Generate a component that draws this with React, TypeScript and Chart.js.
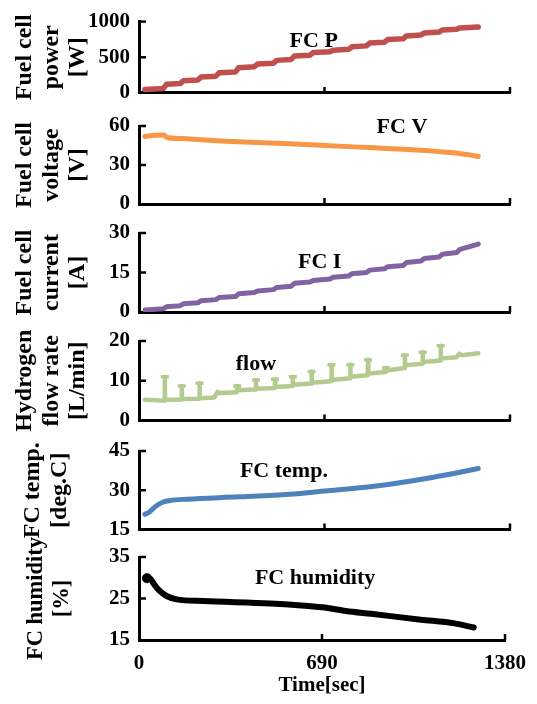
import React, { useEffect, useRef } from 'react';
import { Chart, registerables } from 'chart.js';

Chart.register(...registerables);

// ---------- data ----------
const timeTicks = [0, 690, 1380];

// plateau start / end times shared by the stepped power and current traces (sec)
const stepTime = [22, 90, 102, 153, 165, 219, 231, 286, 298, 359, 371, 429, 441, 500, 512, 566, 578, 636, 648, 710, 722, 780, 792, 846, 858, 913, 925, 983, 995, 1049, 1061, 1116, 1128, 1182, 1194, 1262];
const powerW = [50, 62, 122, 132, 172, 182, 224, 236, 283, 295, 355, 368, 405, 416, 457, 470, 517, 530, 566, 578, 600, 612, 647, 660, 700, 712, 748, 760, 800, 812, 842, 853, 882, 893, 912, 925];
const currentA = [0.8, 1.2, 2.0, 2.4, 3.1, 3.5, 4.3, 4.7, 5.5, 5.9, 6.9, 7.4, 8.0, 8.5, 9.3, 9.8, 10.9, 11.4, 12.0, 12.5, 13.2, 13.7, 14.5, 15.0, 15.9, 16.4, 17.2, 17.7, 18.8, 19.4, 20.3, 20.9, 21.9, 22.6, 23.8, 25.8];

const voltageTime = [22, 60, 92, 104, 160, 230, 306, 440, 622, 691, 875, 1000, 1063, 1127, 1190, 1230, 1262];
const voltageV = [52, 52.8, 53, 51.2, 50.4, 49.4, 48.5, 47.3, 45.8, 45, 43.2, 41.9, 41.1, 40.1, 38.9, 37.8, 36.5];

const flowTime = [22, 95, 96, 97, 158, 159, 160, 224, 225, 226, 280, 292, 300, 364, 365, 366, 434, 435, 436, 505, 506, 507, 571, 572, 573, 641, 642, 643, 715, 716, 717, 785, 786, 787, 851, 852, 853, 918, 919, 920, 988, 989, 990, 1054, 1055, 1056, 1121, 1122, 1123, 1180, 1192, 1200, 1262];
const flowLmin = [5.2, 5.0, 11.0, 5.2, 5.3, 8.7, 5.4, 5.5, 9.4, 5.6, 5.8, 7.2, 6.9, 7.1, 8.7, 7.6, 7.8, 10.2, 8.0, 8.2, 10.4, 8.4, 8.7, 11.0, 9.0, 9.3, 12.3, 9.5, 9.9, 14.0, 10.2, 10.6, 14.0, 11.0, 11.4, 15.2, 11.8, 12.2, 13.2, 12.6, 13.2, 16.4, 13.9, 14.3, 17.2, 14.7, 15.1, 18.8, 15.6, 15.9, 16.8, 16.4, 16.9];
// tops of the flow spikes (drawn as short bars)
const spikeTime = [96, 159, 225, 365, 435, 506, 572, 642, 716, 786, 852, 919, 989, 1055, 1122];
const spikeLmin = [11.0, 8.7, 9.4, 8.7, 10.2, 10.4, 11.0, 12.3, 14.0, 14.0, 15.2, 13.2, 16.4, 17.2, 18.8];

const tempTime = [22, 40, 66, 90, 116, 179, 369, 559, 691, 875, 1063, 1180, 1262];
const tempC = [20.8, 21.8, 24.2, 25.5, 26.1, 26.6, 27.5, 28.5, 29.7, 31.5, 34.4, 36.6, 38.3];

const humidityTime = [30, 42, 55, 75, 104, 142, 243, 495, 600, 691, 780, 875, 1063, 1190, 1262];
const humidityPct = [29.9, 29.8, 28.6, 27.0, 25.6, 24.8, 24.4, 23.8, 23.4, 22.9, 22.0, 21.3, 19.9, 19.0, 18.0];

const powerTicks = [0, 500, 1000];
const voltageTicks = [0, 30, 60];
const currentTicks = [0, 15, 30];
const flowTicks = [0, 10, 20];
const tempTicks = [15, 30, 45];
const humidityTicks = [15, 25, 35];

// ---------- panel styling / layout ----------
const FONT = '"Liberation Serif", "Times New Roman", serif';
const W = 537;
const H = 704;
const AXIS_X = 139;
const RIGHT_PAD = 27;

const panels: any[] = [
  { times: stepTime, values: powerW, ticks: powerTicks, color: '#C0504D', width: 5.5, smooth: false, title: ['Fuel cell', 'power', '[W]'], titlePad: 11, titleSize: 24, label: 'FC P', labelAt: [650, 718], top: 15, bottom: 93 },
  { times: voltageTime, values: voltageV, ticks: voltageTicks, color: '#F79646', width: 5, smooth: true, title: ['Fuel cell', 'voltage', '[V]'], titlePad: 11, titleSize: 24, label: 'FC V', labelAt: [978, 59], top: 126, bottom: 204 },
  { times: stepTime, values: currentA, ticks: currentTicks, color: '#8064A2', width: 5, smooth: false, title: ['Fuel cell', 'current', '[A]'], titlePad: 11, titleSize: 24, label: 'FC I', labelAt: [672, 19], top: 233, bottom: 312 },
  { times: flowTime, values: flowLmin, ticks: flowTicks, color: '#B3CB8E', width: 4.5, smooth: false, title: ['Hydrogen', 'flow rate', '[L/min]'], titlePad: 11, titleSize: 24, label: 'flow', labelAt: [435, 14.2], top: 341, bottom: 420.5, heads: { times: spikeTime, values: spikeLmin } },
  { times: tempTime, values: tempC, ticks: tempTicks, color: '#4F81BD', width: 5, smooth: true, title: ['FC temp.', '[deg.C]'], titlePad: 19.5, titleSize: 24, label: 'FC temp.', labelAt: [539, 37.4], top: 451, bottom: 529.5 },
  { times: humidityTime, values: humidityPct, ticks: humidityTicks, color: '#000000', width: 6, smooth: true, startBlob: true, title: ['FC humidity', '[%]'], titlePad: 24, titleSize: 22.5, label: 'FC humidity', labelAt: [664, 29.9], top: 557, bottom: 640 },
];

const innerTicks = {
  id: 'innerTicks',
  afterDatasetsDraw(chart: any) {
    const { ctx, scales, chartArea } = chart;
    ctx.save();
    ctx.strokeStyle = '#000';
    ctx.lineWidth = 2.5;
    scales.y.ticks.forEach((t: any, i: number) => {
      if (i === 0) return;
      const py = scales.y.getPixelForValue(t.value);
      ctx.beginPath();
      ctx.moveTo(chartArea.left, py);
      ctx.lineTo(chartArea.left + 7, py);
      ctx.stroke();
    });
    scales.x.ticks.forEach((t: any, i: number) => {
      if (i === 0) return;
      const px = scales.x.getPixelForValue(t.value);
      ctx.beginPath();
      ctx.moveTo(px, chartArea.bottom);
      ctx.lineTo(px, chartArea.bottom - 6);
      ctx.stroke();
    });
    ctx.restore();
  },
};

const panelLabel = {
  id: 'panelLabel',
  afterDatasetsDraw(chart: any, _args: any, opts: any) {
    const { ctx, scales } = chart;
    const x = scales.x.getPixelForValue(opts.at[0]);
    const y = scales.y.getPixelForValue(opts.at[1]);
    ctx.save();
    ctx.font = `bold 22px ${FONT}`;
    ctx.fillStyle = '#000';
    ctx.textAlign = 'center';
    ctx.textBaseline = 'middle';
    ctx.fillText(opts.text, x, y);
    ctx.restore();
  },
};

const plain = (v: any) => String(v);

export default function App() {
  const refs = useRef<(HTMLCanvasElement | null)[]>([]);

  useEffect(() => {
    const charts = panels.map((p, i) => {
      const canvas = refs.current[i] as HTMLCanvasElement;
      const last = i === panels.length - 1;
      const xh = last ? 60 : 0;
      const yTicks: number[] = p.ticks;
      const datasets: any[] = [
        {
          data: p.times.map((t: number, k: number) => ({ x: t, y: p.values[k] })),
          borderColor: p.color,
          backgroundColor: p.color,
          borderWidth: p.width,
          pointRadius: p.startBlob ? (c: any) => (c.dataIndex === 0 ? 5 : 0) : 0,
          pointBorderWidth: 0,
          tension: p.smooth ? 0.4 : 0,
          cubicInterpolationMode: p.smooth ? 'monotone' : 'default',
          borderCapStyle: 'round',
          borderJoinStyle: 'round',
          fill: false,
        },
      ];
      if (p.heads) {
        datasets.push({
          data: p.heads.times.map((t: number, k: number) => ({ x: t, y: p.heads.values[k] })),
          showLine: false,
          pointStyle: 'line',
          pointRadius: 4,
          pointBorderWidth: 3.5,
          pointBorderColor: p.color,
          borderColor: p.color,
          backgroundColor: p.color,
        });
      }
      return new Chart(canvas, {
        type: 'line',
        data: { datasets },
        options: {
          responsive: false,
          animation: false,
          events: [],
          layout: { padding: { left: 0, right: RIGHT_PAD, top: p.top, bottom: H - p.bottom - xh } },
          plugins: {
            legend: { display: false },
            tooltip: { enabled: false },
            panelLabel: { text: p.label, at: p.labelAt },
          } as any,
          scales: {
            x: {
              type: 'linear',
              min: 0,
              max: 1380,
              afterBuildTicks: (s: any) => {
                s.ticks = timeTicks.map((v) => ({ value: v }));
              },
              ticks: {
                display: last,
                autoSkip: false,
                maxRotation: 0,
                padding: 11,
                color: '#000',
                callback: plain,
                font: { family: FONT, size: 21, weight: 'bold' },
              },
              grid: { display: true, drawOnChartArea: false, drawTicks: false },
              border: { display: true, width: 3, color: '#000' },
              title: {
                display: last,
                text: 'Time[sec]',
                color: '#000',
                padding: { top: 0, bottom: 2 },
                font: { family: FONT, size: 21, weight: 'bold' },
              },
              afterFit: (s: any) => {
                s.height = xh;
              },
            },
            y: {
              type: 'linear',
              min: yTicks[0],
              max: yTicks[yTicks.length - 1],
              afterBuildTicks: (s: any) => {
                s.ticks = yTicks.map((v) => ({ value: v }));
              },
              ticks: {
                padding: 9,
                color: '#000',
                callback: plain,
                font: { family: FONT, size: 21, weight: 'bold' },
              },
              grid: { display: true, drawOnChartArea: false, drawTicks: false },
              border: { display: true, width: 3, color: '#000' },
              title: {
                display: true,
                text: p.title,
                color: '#000',
                padding: { top: p.titlePad, bottom: 0 },
                font: { family: FONT, size: p.titleSize, weight: 'bold', lineHeight: 1.12 },
              },
              afterFit: (s: any) => {
                s.width = AXIS_X;
              },
            },
          },
        } as any,
        plugins: [innerTicks, panelLabel],
      });
    });
    return () => charts.forEach((c) => c.destroy());
  }, []);

  return (
    <div style={{ position: 'absolute', left: 0, top: 0, width: W, height: H, background: '#fff' }}>
      {panels.map((_, i) => (
        <canvas
          key={i}
          ref={(el) => {
            refs.current[i] = el;
          }}
          width={W}
          height={H}
          style={{ position: 'absolute', left: 0, top: 0, width: W, height: H }}
        />
      ))}
    </div>
  );
}
